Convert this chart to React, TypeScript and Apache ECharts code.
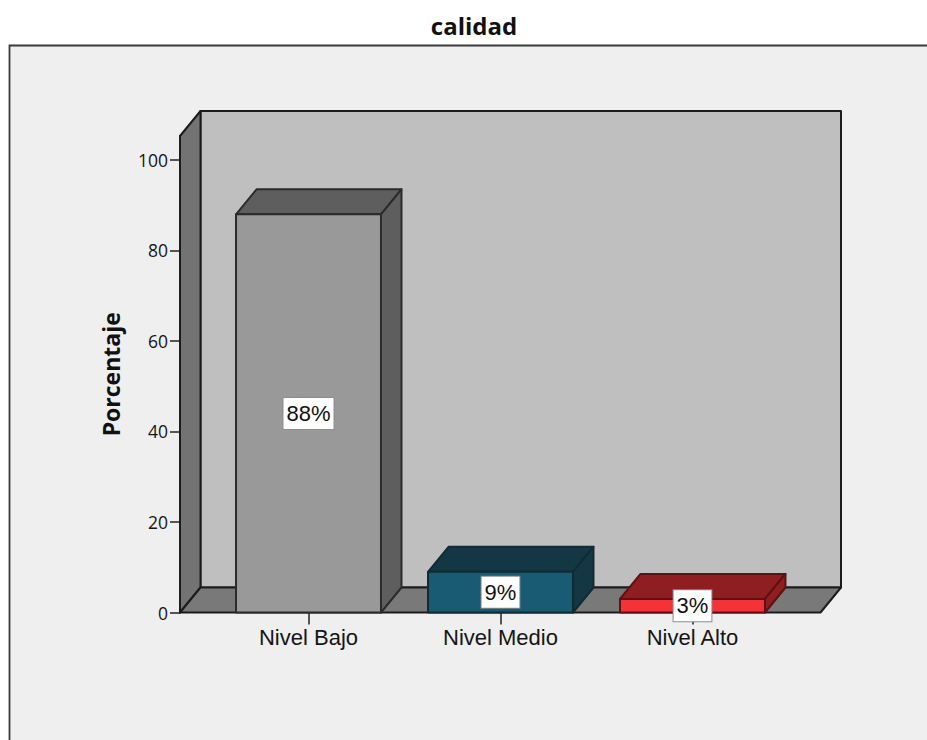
import React, { useEffect, useRef } from "react";
import * as echarts from "echarts";

const chartTitle = "calidad";
const yAxisName = "Porcentaje";
const categories = ["Nivel Bajo", "Nivel Medio", "Nivel Alto"];
const percentages = [88, 9, 3];
const percentLabels = ["88%", "9%", "3%"];
const yTicks = [0, 20, 40, 60, 80, 100];
const yAxisTop = 105.3;

const faceColors = ["#999999", "#1a5b74", "#f53238"];
const shadeColors = ["#5e5e5e", "#133844", "#8f1e20"];
const edgeColors = ["#2b2b2b", "#0e2b36", "#5c1214"];

// Offset of the receding edges of the box and of the bars.
const DEPTH_X = 20.5;
const DEPTH_Y = -25;
const FRAME_LEFT_GAP = 32.5;
const FRAME_RIGHT_GAP = 32;

function renderFrame(params: any, api: any) {
  const sys = params.coordSys;
  const left = sys.x - FRAME_LEFT_GAP;
  const right = sys.x + sys.width + FRAME_RIGHT_GAP;
  const bottom = api.coord([0, 0])[1];
  const top = api.coord([0, yAxisTop])[1];
  const edge = { stroke: "#1c1c1c", lineWidth: 2, lineJoin: "round" };
  const poly = (points: number[][], fill: string) => ({
    type: "polygon",
    shape: { points },
    style: { fill, ...edge },
  });
  return {
    type: "group",
    children: [
      poly(
        [
          [left + DEPTH_X, top + DEPTH_Y],
          [right + DEPTH_X, top + DEPTH_Y],
          [right + DEPTH_X, bottom + DEPTH_Y],
          [left + DEPTH_X, bottom + DEPTH_Y],
        ],
        "#bfbfbf",
      ),
      poly(
        [
          [left, top],
          [left + DEPTH_X, top + DEPTH_Y],
          [left + DEPTH_X, bottom + DEPTH_Y],
          [left, bottom],
        ],
        "#737373",
      ),
      poly(
        [
          [left, bottom],
          [left + DEPTH_X, bottom + DEPTH_Y],
          [right + DEPTH_X, bottom + DEPTH_Y],
          [right, bottom],
        ],
        "#797979",
      ),
    ],
  };
}

function renderBar(params: any, api: any) {
  const i = api.value(0);
  const value = api.value(1);
  const [cx, yTop] = api.coord([i, value]);
  const yBase = api.coord([i, 0])[1];
  const half = (api.size([1, 0])[0] * 0.755) / 2;
  const x0 = cx - half;
  const x1 = cx + half;
  const edge = { stroke: edgeColors[i], lineWidth: 2, lineJoin: "round" };
  return {
    type: "group",
    children: [
      {
        type: "polygon",
        shape: {
          points: [
            [x0, yTop],
            [x0 + DEPTH_X, yTop + DEPTH_Y],
            [x1 + DEPTH_X, yTop + DEPTH_Y],
            [x1, yTop],
          ],
        },
        style: { fill: shadeColors[i], ...edge },
      },
      {
        type: "polygon",
        shape: {
          points: [
            [x1, yTop],
            [x1 + DEPTH_X, yTop + DEPTH_Y],
            [x1 + DEPTH_X, yBase + DEPTH_Y],
            [x1, yBase],
          ],
        },
        style: { fill: shadeColors[i], ...edge },
      },
      {
        type: "rect",
        shape: { x: x0, y: yTop, width: x1 - x0, height: yBase - yTop },
        style: { fill: faceColors[i], ...edge },
      },
      {
        type: "text",
        x: cx,
        y: api.coord([i, value / 2])[1],
        style: {
          text: percentLabels[i],
          fontFamily: "Liberation Sans",
          fontSize: 22,
          lineHeight: 23,
          fill: "#111111",
          align: "center",
          verticalAlign: "middle",
          backgroundColor: "#ffffff",
          borderColor: "#8c8c8c",
          borderWidth: 1,
          padding: [4, 3, 4, 3],
        },
      },
    ],
  };
}

export default function App() {
  const ref = useRef<HTMLDivElement>(null);

  useEffect(() => {
    document.body.style.margin = "0";
    const chart = echarts.init(ref.current!, undefined, { renderer: "svg" });
    chart.setOption({
      animation: false,
      backgroundColor: "#ffffff",
      title: {
        text: chartTitle,
        left: 469,
        top: 8,
        textAlign: "center",
        textStyle: {
          fontFamily: "Open Sans",
          fontWeight: "bold",
          fontSize: 24,
          color: "#111111",
        },
      },
      graphic: [
        {
          type: "rect",
          z: -10,
          shape: { x: 9.5, y: 45.5, width: 930, height: 710 },
          style: { fill: "#efefef", stroke: "#3a3a3a", lineWidth: 1.8 },
        },
      ],
      grid: { left: 212.5, width: 576, top: 136, height: 476.5 },
      xAxis: {
        type: "category",
        data: categories,
        axisLine: { show: false },
        axisTick: {
          show: true,
          alignWithLabel: true,
          length: 12,
          lineStyle: { color: "#222222", width: 1.5 },
        },
        axisLabel: {
          fontFamily: "Liberation Sans",
          fontSize: 22,
          color: "#151515",
          margin: 14,
        },
      },
      yAxis: {
        type: "value",
        min: 0,
        max: yAxisTop,
        offset: FRAME_LEFT_GAP,
        splitLine: { show: false },
        name: yAxisName,
        nameLocation: "middle",
        nameGap: 58,
        nameTextStyle: {
          fontFamily: "Open Sans",
          fontWeight: "bold",
          fontSize: 23,
          color: "#111111",
        },
        axisLine: { show: true, lineStyle: { color: "#1c1c1c", width: 2 } },
        axisTick: {
          show: true,
          length: 10,
          customValues: yTicks,
          lineStyle: { color: "#222222", width: 1.5 },
        },
        axisLabel: {
          customValues: yTicks,
          fontFamily: "Open Sans",
          fontSize: 17.5,
          color: "#151515",
          margin: 12,
        },
      },
      series: [
        {
          type: "custom",
          name: "marco",
          silent: true,
          renderItem: renderFrame,
          encode: { x: 0, y: 1 },
          data: [[0, 0]],
          z: 1,
        },
        {
          type: "custom",
          name: chartTitle,
          renderItem: renderBar,
          encode: { x: 0, y: 1 },
          data: percentages.map((v, i) => [i, v]),
          z: 2,
        },
      ],
    });
    return () => chart.dispose();
  }, []);

  return (
    <div
      ref={ref}
      style={{ position: "absolute", left: 0, top: 0, width: 927, height: 740 }}
    />
  );
}
